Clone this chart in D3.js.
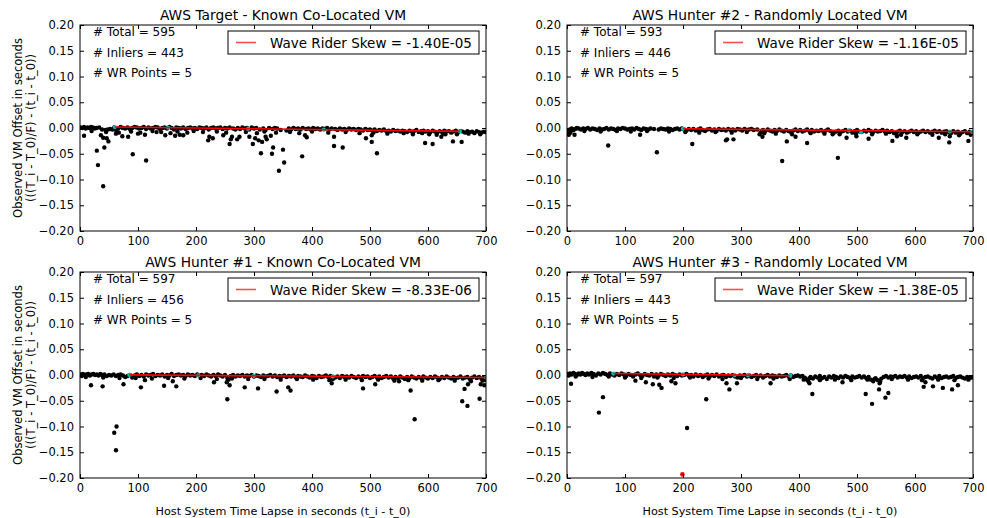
<!DOCTYPE html>
<html>
<head>
<meta charset="utf-8">
<script src="https://cdn.jsdelivr.net/npm/d3@7"></script>
<style>
body { margin: 0; background: #fff; }
svg text { font-family: "DejaVu Sans", sans-serif; fill: #000; }
</style>
</head>
<body>
<div id="chart"></div>
<script>
// ---- data (x in seconds, y offset in milliseconds) ----
const xTicks = [0, 100, 200, 300, 400, 500, 600, 700];
const yTicks = [0.20, 0.15, 0.10, 0.05, 0.00, -0.05, -0.10, -0.15, -0.20];

const titles = ["AWS Target - Known Co-Located VM", "AWS Hunter #2 - Randomly Located VM",
    "AWS Hunter #1 - Known Co-Located VM", "AWS Hunter #3 - Randomly Located VM"];
const totals = [595, 593, 597, 597];
const inliers = [443, 446, 456, 443];
const wrCounts = [5, 5, 5, 5];
const skews = ["-1.40E-05", "-1.16E-05", "-8.33E-06", "-1.38E-05"];

// fitted wave rider line endpoints [x0, y0, x1, y1]
const fitTarget = [60, 1.8, 655, -6.5];
const fitHunter2 = [200, -1.5, 700, -7.3];
const fitHunter1 = [85, 0.2, 700, -4.9];
const fitHunter3 = [80, 2.8, 385, -1.4];

const wrTarget = [[60,1.8],[152,0.5],[290,-1.4],[420,-3.2],[655,-6.5]];
const wrHunter2 = [[200,-1.5],[486,-4.8],[507,-8],[660,-6.8],[698,-7.3]];
const wrHunter1 = [[85,0.2],[204,-0.8],[300,-1.6],[436,-2.7],[700,-4.9]];
const wrHunter3 = [[80,2.8],[200,1.1],[289,-0.1],[312,-0.4],[385,-1.4]];

const redHunter3 = [[199,-193],[97,-203]];

const bandTarget = [[1,1],[4,0],[7,2],[10,-1],[13,1],[16,0],[19,2],[22,1],[25,-1],[28,0],[33,1],[38,-3],[44,-4],[48,-3],[52,-2],[56,-3],[59,1],[62,-4],[66,-1],[70,2],[74,0],[78,-1],[82,1],[86,-2],[90,0],[94,2],[98,1],[102,-1],[106,0],[110,2],[114,-2],[118,1],[122,-1],[126,0],[130,2],[134,1],[138,-2],[142,0],[146,1],[150,-1],[154,2],[158,0],[162,-3],[166,1],[170,0],[174,-1],[178,1],[182,-2],[186,0],[190,1],[194,-1],[198,0],[202,-2],[206,1],[210,0],[214,-1],[218,1],[222,-3],[226,0],[230,1],[234,-1],[238,0],[242,1],[246,-2],[250,0],[254,-1],[258,1],[264,-1],[268,-3],[272,0],[276,-2],[280,1],[284,-1],[288,0],[292,-3],[296,1],[300,-1],[304,0],[310,-3],[316,-1],[320,-4],[326,0],[332,-2],[336,0],[340,-1],[346,-4],[356,-5],[360,-1],[364,-3],[368,0],[372,-2],[376,-1],[380,-3],[384,0],[390,-2],[394,-1],[398,-3],[402,0],[406,-2],[410,-1],[414,-3],[418,-1],[422,-2],[426,0],[430,-3],[434,-1],[440,-2],[444,-4],[448,-1],[452,-3],[456,-2],[460,-4],[464,-1],[468,-3],[472,-2],[476,-4],[480,-2],[484,-3],[488,-5],[492,-2],[496,-4],[500,-3],[504,-5],[508,-3],[512,-6],[516,-4],[520,-5],[524,-3],[528,-6],[532,-5],[536,-7],[540,-4],[544,-6],[548,-5],[552,-7],[556,-5],[560,-6],[564,-8],[568,-5],[572,-7],[576,-6],[580,-4],[584,-8],[588,-6],[592,-5],[596,-7],[600,-6],[604,-8],[608,-5],[612,-7],[616,-9],[620,-6],[624,-8],[628,-5],[632,-7],[636,-6],[640,-9],[644,-7],[648,-5],[652,-8],[656,-6],[660,-7],[664,-9],[668,-6],[672,-8],[676,-7],[680,-10],[684,-6],[688,-8],[692,-9],[696,-7],[699,-8]];
const nearTarget = [[20,-6],[45,-8],[67,-9],[88,-7],[104,-9],[125,-6],[140,-8],[156,-10],[168,-7],[185,-9],[196,-6],[212,-8],[236,-7],[252,-9],[286,-8],[305,-10],[318,-7],[338,-9],[362,-8],[378,-10],[400,-7],[428,-9],[458,-8],[482,-10],[506,-9],[530,-11],[558,-10],[574,-12],[590,-10],[602,-12],[626,-11],[650,-12],[670,-11],[690,-12]];
const outTarget = [[7,-15],[29,-44],[31,-72],[36,-14],[40,-19],[40,-113],[42,-38],[46,-20],[49,-26],[62,-11],[73,-16],[83,-17],[91,-51],[100,-11],[112,-13],[114,-63],[132,-8],[147,-14],[164,-15],[172,-13],[178,-14],[221,-24],[223,-17],[229,-20],[247,-14],[258,-31],[260,-22],[262,-17],[271,-22],[275,-17],[292,-17],[298,-31],[302,-20],[308,-24],[312,-49],[314,-27],[320,-17],[322,-22],[329,-15],[331,-50],[333,-38],[343,-83],[350,-42],[352,-67],[383,-55],[388,-14],[391,-18],[438,-17],[438,-35],[453,-38],[493,-20],[503,-27],[503,-14],[512,-49],[595,-29],[608,-31],[623,-17],[643,-26],[658,-27],[615,-13],[630,-12]];

const bandHunter2 = [[1,-10],[2,-6],[3,-13],[5,-3],[8,-1],[11,-4],[14,-2],[17,0],[20,-1],[24,-3],[28,-1],[32,-2],[36,0],[40,-3],[44,-1],[48,-2],[52,-4],[56,-1],[60,-3],[64,-2],[68,0],[72,-3],[76,-1],[80,-2],[84,-4],[88,-1],[92,-2],[96,0],[100,-1],[104,-3],[108,-2],[112,-1],[116,-3],[120,0],[124,-2],[128,-4],[132,-1],[136,-2],[140,-3],[144,-1],[150,-2],[158,-3],[162,-1],[166,-2],[170,-3],[174,-1],[178,-2],[182,-4],[186,-2],[190,-1],[194,-3],[198,-1],[202,-3],[206,-5],[210,-2],[214,-4],[218,-2],[222,-5],[226,-3],[230,-1],[234,-4],[238,-6],[242,-3],[246,-2],[250,-5],[254,-3],[258,-6],[262,-2],[266,-4],[270,-3],[274,-5],[278,-2],[282,-4],[286,-3],[290,-5],[294,-2],[298,-3],[302,-5],[306,-2],[310,-4],[314,-3],[318,-2],[322,-4],[328,-3],[332,-12],[334,-8],[338,-4],[342,-6],[346,-3],[350,-5],[354,-7],[358,-4],[362,-6],[366,-3],[370,-5],[374,-7],[378,-4],[382,-6],[386,-8],[390,-5],[394,-3],[398,-6],[402,-4],[406,-7],[410,-5],[414,-3],[418,-6],[422,-4],[426,-7],[430,-5],[434,-6],[438,-4],[442,-7],[446,-5],[450,-3],[454,-6],[458,-12],[460,-9],[464,-7],[468,-5],[472,-8],[476,-6],[480,-4],[484,-7],[488,-5],[492,-9],[496,-6],[500,-4],[504,-7],[508,-8],[512,-5],[516,-7],[520,-4],[524,-6],[528,-8],[532,-5],[536,-7],[540,-6],[544,-4],[548,-7],[552,-5],[556,-8],[560,-6],[564,-10],[568,-12],[570,-7],[574,-5],[578,-8],[582,-6],[586,-9],[590,-7],[594,-5],[598,-8],[602,-6],[606,-9],[610,-7],[614,-5],[618,-8],[622,-6],[626,-9],[630,-7],[634,-5],[638,-8],[642,-6],[646,-9],[650,-7],[654,-6],[658,-8],[662,-10],[666,-6],[670,-9],[674,-7],[678,-11],[682,-8],[686,-6],[690,-10],[694,-7],[698,-9]];
const nearHunter2 = [[6,-9],[30,-6],[58,-7],[86,-6],[110,-7],[138,-6],[176,-7],[204,-8],[228,-9],[256,-8],[284,-9],[310,-8],[340,-10],[360,-11],[388,-12],[420,-10],[444,-11],[470,-12],[498,-11],[526,-12],[550,-11],[576,-13],[604,-12],[630,-13],[652,-12],[676,-14],[696,-13]];
const outHunter2 = [[13,-13],[71,-34],[126,-13],[155,-47],[216,-31],[274,-24],[276,-22],[287,-22],[337,-17],[371,-64],[379,-26],[394,-17],[414,-29],[467,-58],[482,-19],[499,-16],[520,-21],[561,-25],[569,-16],[585,-19],[641,-19],[659,-28],[660,-16],[692,-25]];

const bandHunter1 = [[1,1],[3,-2],[5,2],[8,0],[11,1],[14,2],[17,-1],[20,1],[23,2],[26,0],[29,1],[32,-1],[35,2],[38,0],[42,1],[46,-2],[50,0],[54,-1],[58,1],[62,-2],[66,0],[70,1],[74,-1],[78,-4],[82,-2],[86,0],[90,-5],[94,-1],[98,1],[102,-2],[106,0],[110,-3],[114,1],[118,-1],[122,0],[126,2],[130,-2],[134,0],[138,-1],[142,1],[146,-3],[150,0],[154,-1],[158,2],[162,-2],[166,0],[170,1],[174,-1],[178,0],[182,-2],[186,1],[190,-1],[194,0],[198,-2],[202,1],[206,-1],[210,0],[214,-2],[218,1],[222,-1],[226,-3],[230,0],[234,-2],[238,1],[242,-1],[246,-3],[250,0],[254,-6],[256,-9],[260,-2],[264,0],[268,-3],[272,-1],[276,-2],[280,0],[284,-3],[288,-1],[292,-2],[296,0],[300,-3],[304,-1],[308,-2],[312,-4],[316,-1],[320,-3],[324,-2],[328,0],[332,-3],[336,-1],[340,-4],[344,-2],[348,-3],[352,-1],[356,-4],[360,-2],[364,-3],[368,-1],[372,-5],[376,-2],[380,-3],[384,-4],[388,-1],[392,-3],[396,-5],[400,-2],[404,-3],[408,-6],[412,-2],[416,-4],[420,-3],[424,-1],[428,-4],[432,-2],[436,-8],[440,-5],[444,-3],[448,-6],[452,-2],[456,-4],[460,-3],[464,-5],[468,-2],[472,-4],[476,-6],[480,-3],[484,-5],[488,-2],[492,-4],[496,-3],[500,-6],[504,-4],[508,-2],[512,-5],[516,-3],[520,-6],[524,-4],[528,-2],[532,-5],[536,-3],[540,-7],[544,-4],[548,-6],[552,-3],[556,-5],[560,-8],[564,-4],[568,-6],[572,-3],[576,-5],[580,-7],[584,-4],[588,-6],[592,-3],[596,-5],[600,-7],[604,-4],[608,-6],[612,-3],[616,-5],[620,-8],[624,-4],[628,-6],[632,-3],[636,-5],[640,-7],[644,-4],[648,-6],[652,-5],[656,-3],[660,-7],[664,-5],[668,-4],[672,-8],[676,-5],[680,-3],[684,-6],[688,-4],[692,-7],[696,-5],[699,-10]];
const nearHunter1 = [[10,-4],[40,-5],[68,-6],[96,-6],[124,-7],[152,-6],[180,-7],[208,-6],[236,-8],[262,-7],[290,-8],[318,-8],[346,-9],[374,-8],[402,-9],[430,-10],[458,-9],[486,-10],[514,-9],[542,-11],[566,-10],[590,-11],[618,-10],[646,-11],[674,-12],[694,-11]];
const outHunter1 = [[19,-20],[39,-22],[59,-112],[63,-100],[62,-146],[75,-18],[105,-24],[112,-10],[145,-21],[160,-12],[166,-22],[231,-14],[253,-14],[254,-47],[258,-20],[284,-24],[307,-26],[339,-32],[359,-24],[363,-30],[434,-16],[488,-26],[509,-18],[550,-12],[570,-30],[577,-86],[659,-51],[663,-27],[668,-60],[669,-18],[689,-46],[691,-18],[697,-20]];

const bandHunter3 = [[1,2],[3,-1],[5,3],[8,1],[11,4],[14,2],[17,0],[20,3],[23,1],[26,4],[29,2],[32,0],[35,3],[38,1],[42,4],[46,2],[50,-1],[54,3],[58,1],[62,4],[66,2],[70,0],[74,3],[78,1],[82,-1],[86,2],[90,0],[94,3],[98,1],[102,-2],[106,2],[110,0],[114,-3],[118,1],[122,3],[126,0],[130,-2],[134,2],[138,0],[142,-1],[146,2],[150,-3],[154,1],[158,-1],[162,2],[166,0],[170,-2],[174,1],[178,-1],[182,2],[186,0],[190,-2],[194,1],[198,-1],[202,0],[206,2],[210,-1],[214,0],[218,-3],[222,1],[226,-2],[230,0],[234,-4],[238,-1],[242,1],[246,-3],[250,0],[254,-2],[258,1],[262,-3],[266,-1],[270,0],[274,-4],[278,-1],[282,-2],[286,0],[290,-3],[294,-5],[298,-1],[302,-2],[306,0],[310,-3],[314,-1],[318,-4],[322,-2],[326,0],[330,-3],[334,-1],[338,-5],[342,-2],[346,0],[350,-3],[354,-1],[358,-2],[362,-4],[366,-1],[370,-3],[374,-2],[378,0],[382,-3],[386,-1],[390,-4],[394,-2],[398,-1],[402,-3],[406,-2],[410,-5],[414,-9],[416,-12],[418,-6],[420,-4],[424,-7],[428,-3],[432,-5],[436,-2],[440,-6],[444,-4],[448,-8],[452,-3],[456,-5],[460,-2],[464,-4],[468,-6],[472,-3],[476,-5],[480,-2],[484,-4],[488,-6],[492,-3],[496,-5],[500,-4],[504,-2],[508,-5],[512,-3],[516,-6],[520,-4],[524,-9],[528,-12],[530,-8],[532,-6],[536,-10],[540,-13],[542,-7],[546,-4],[550,-2],[554,-5],[558,-3],[562,-4],[566,-2],[570,-5],[574,-3],[578,-4],[582,-2],[586,-5],[590,-3],[594,-6],[598,-4],[602,-3],[606,-5],[610,-2],[614,-6],[618,-4],[622,-3],[626,-5],[630,-7],[634,-3],[638,-5],[642,-2],[646,-6],[650,-4],[654,-3],[658,-5],[662,-4],[666,-2],[670,-6],[674,-4],[678,-3],[682,-5],[686,-7],[690,-4],[694,-6],[698,-5]];
const nearHunter3 = [[15,-3],[44,-4],[72,-3],[100,-5],[128,-6],[156,-5],[184,-6],[212,-5],[244,-7],[268,-8],[300,-6],[328,-8],[356,-7],[384,-8],[408,-9],[436,-10],[462,-9],[490,-10],[518,-9],[560,-8],[588,-9],[612,-10],[640,-9],[668,-10],[692,-9]];
const outHunter3 = [[7,-17],[55,-73],[62,-43],[118,-11],[136,-14],[148,-18],[159,-19],[163,-25],[180,-12],[187,-16],[207,-103],[240,-47],[275,-16],[280,-28],[293,-16],[351,-16],[418,-16],[423,-37],[475,-14],[515,-37],[526,-56],[538,-28],[539,-16],[549,-44],[554,-35],[615,-23],[618,-14],[631,-22],[648,-25],[664,-28],[674,-20]];

// ---- layout ----
const W = 987, H = 518;
const PLOT_W = 406, PLOT_H = 206;
const panelPos = [[80, 25], [567, 25], [80, 272], [567, 272]];

class SkewPlot {
    constructor(svg, cfg) {
        this.svg = svg;
        this.cfg = cfg;
        this.initVis();
    }

    initVis() {
        const vis = this;
        const c = vis.cfg;

        vis.x = d3.scaleLinear().domain([0, 700]).range([0, PLOT_W]);
        vis.y = d3.scaleLinear().domain([-0.2, 0.2]).range([PLOT_H, 0]);

        vis.g = vis.svg.append("g")
            .attr("transform", `translate(${c.left}, ${c.top})`);

        vis.g.append("rect")
            .attr("width", PLOT_W).attr("height", PLOT_H)
            .attr("fill", "#fff");

        const clipId = "clip" + c.id;
        vis.g.append("clipPath").attr("id", clipId)
            .append("rect").attr("width", PLOT_W).attr("height", PLOT_H);

        const plot = vis.g.append("g").attr("clip-path", `url(#${clipId})`);
        const pts = c.band.concat(c.near, c.outliers);

        plot.selectAll(".pt").data(pts).enter().append("circle")
            .attr("class", "pt")
            .attr("cx", d => vis.x(d[0]))
            .attr("cy", d => vis.y(d[1] / 1000))
            .attr("r", 2.2)
            .attr("fill", "#000");

        plot.selectAll(".wr").data(c.wr).enter().append("circle")
            .attr("class", "wr")
            .attr("cx", d => vis.x(d[0]))
            .attr("cy", d => vis.y(d[1] / 1000))
            .attr("r", 2.1)
            .attr("fill", "#00bfbf");

        plot.append("line")
            .attr("x1", vis.x(c.fit[0])).attr("y1", vis.y(c.fit[1] / 1000))
            .attr("x2", vis.x(c.fit[2])).attr("y2", vis.y(c.fit[3] / 1000))
            .attr("stroke", "#ff0000")
            .attr("stroke-width", 1.6);

        plot.selectAll(".red").data(c.red || []).enter().append("circle")
            .attr("class", "red")
            .attr("cx", d => vis.x(d[0]))
            .attr("cy", d => vis.y(d[1] / 1000))
            .attr("r", 2.3)
            .attr("fill", "#ff0000");

        // axes, ticks inside on all four sides
        const fmtY = d3.format(".2f");
        const axB = d3.axisBottom(vis.x).tickValues(xTicks).tickSize(-4).tickPadding(6).tickFormat(d3.format("d"));
        const axT = d3.axisTop(vis.x).tickValues(xTicks).tickSize(-4).tickFormat("");
        const axL = d3.axisLeft(vis.y).tickValues(yTicks).tickSize(-4).tickPadding(6).tickFormat(fmtY);
        const axR = d3.axisRight(vis.y).tickValues(yTicks).tickSize(-4).tickFormat("");

        const axes = [
            [axB, `translate(0, ${PLOT_H})`],
            [axT, null],
            [axL, null],
            [axR, `translate(${PLOT_W}, 0)`]
        ];
        axes.forEach(([ax, tr]) => {
            const a = vis.g.append("g").call(ax)
                .attr("font-size", 11.5)
                .attr("font-family", "DejaVu Sans, sans-serif");
            if (tr) a.attr("transform", tr);
            a.select(".domain").remove();
            a.selectAll("line").attr("stroke", "#000");
        });

        vis.g.append("rect")
            .attr("width", PLOT_W).attr("height", PLOT_H)
            .attr("fill", "none")
            .attr("stroke", "#000")
            .attr("stroke-width", 1);

        // title
        vis.g.append("text")
            .attr("x", PLOT_W / 2).attr("y", -5)
            .attr("text-anchor", "middle")
            .style("font-size", "13.8px")
            .text(c.title);

        // counts
        const notes = [`# Total = ${c.total}`, `# Inliers = ${c.inliers}`, `# WR Points = ${c.wrCount}`];
        vis.g.selectAll(".note").data(notes).enter().append("text")
            .attr("class", "note")
            .attr("x", 13)
            .attr("y", (d, i) => 11 + i * 20.5)
            .style("font-size", "12px")
            .text(d => d);

        // legend
        const lg = vis.g.append("g")
            .attr("transform", `translate(${PLOT_W - 258}, 6)`);
        lg.append("rect")
            .attr("width", 251).attr("height", 23)
            .attr("fill", "#fff").attr("stroke", "#000");
        lg.append("line")
            .attr("x1", 8).attr("x2", 28).attr("y1", 11.5).attr("y2", 11.5)
            .attr("stroke", "#ff0000").attr("stroke-opacity", 0.7).attr("stroke-width", 1.6);
        lg.append("text")
            .attr("x", 42).attr("y", 16.5)
            .style("font-size", "13.5px")
            .text(`Wave Rider Skew = ${c.skew}`);

        if (c.yLabel) {
            const yl = vis.svg.append("text")
                .attr("transform", `translate(0, ${c.top + PLOT_H / 2}) rotate(-90)`)
                .attr("text-anchor", "middle")
                .style("font-size", "11.5px");
            yl.append("tspan").attr("x", 0).attr("y", 22).text("Observed VM Offset in seconds");
            yl.append("tspan").attr("x", 0).attr("y", 35).text("(((T_i - T_0)/F) - (t_i - t_0))");
        }
        if (c.xLabel) {
            vis.g.append("text")
                .attr("x", PLOT_W / 2).attr("y", PLOT_H + 37)
                .attr("text-anchor", "middle")
                .style("font-size", "11.2px")
                .text("Host System Time Lapse in seconds (t_i - t_0)");
        }
    }
}

const svg = d3.select("#chart").append("svg")
    .attr("width", W).attr("height", H);
svg.append("rect").attr("width", W).attr("height", H).attr("fill", "#fff");

const panels = [
    { band: bandTarget, near: nearTarget, outliers: outTarget, fit: fitTarget, wr: wrTarget, yLabel: true, xLabel: false },
    { band: bandHunter2, near: nearHunter2, outliers: outHunter2, fit: fitHunter2, wr: wrHunter2, yLabel: false, xLabel: false },
    { band: bandHunter1, near: nearHunter1, outliers: outHunter1, fit: fitHunter1, wr: wrHunter1, yLabel: true, xLabel: true },
    { band: bandHunter3, near: nearHunter3, outliers: outHunter3, fit: fitHunter3, wr: wrHunter3, red: redHunter3, yLabel: false, xLabel: true }
];

panels.forEach((p, i) => {
    new SkewPlot(svg, Object.assign({}, p, {
        id: i,
        left: panelPos[i][0],
        top: panelPos[i][1],
        title: titles[i],
        total: totals[i],
        inliers: inliers[i],
        wrCount: wrCounts[i],
        skew: skews[i]
    }));
});
</script>
</body>
</html>
